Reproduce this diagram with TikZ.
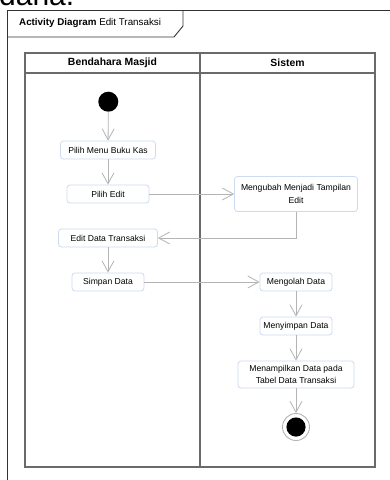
\documentclass[tikz,border=0pt]{standalone}
\usepackage{fontspec}
\setmainfont{Liberation Sans}
\usetikzlibrary{arrows.meta,calc}
\definecolor{framec}{HTML}{333333}
\definecolor{lanec}{HTML}{6A6A6A}
\definecolor{edgec}{HTML}{B4B4B4}
\definecolor{boxc}{HTML}{CCDAF2}
\tikzset{
  act/.style={draw=boxc, fill=white, rounded corners=3pt, line width=0.8pt,
    align=center, inner sep=1pt, minimum height=18pt,
    font=\fontsize{8.6}{12.5}\selectfont},
  flow/.style={draw=edgec, line width=0.8pt,
    -{Straight Barb[length=11pt,width=12pt,line width=0.8pt]}},
  lane/.style={draw=lanec, line width=1.1pt},
  lanehead/.style={font=\fontsize{10.4}{12}\selectfont\bfseries},
}
\begin{document}
\begin{tikzpicture}[x=1pt,y=-1pt]
\useasboundingbox (0,0) rectangle (390,480);
\clip (0,0) rectangle (390,480);
\fill[white] (0,0) rectangle (390,480);

% running text above the figure
\node[anchor=base west, inner sep=0pt, font=\fontsize{30}{30}\selectfont] (prev) at (-1,5.5) {dana.};

% diagram frame with its name tab
\draw[framec, line width=0.9pt] (395,10) -- (7,10) -- (7,490);
\draw[framec, line width=0.9pt] (183,10) -- (183,26) -- (174,37) -- (7,37);
\node[anchor=west, inner sep=0pt, font=\fontsize{9.8}{12}\selectfont] (title) at (19,22.5)
  {\textbf{Activity Diagram} Edit Transaksi};

% swimlanes
\draw[lane] (25,53) rectangle (375,467);
\draw[lane] (25,73) -- (375,73);
\draw[lane] (200,53) -- (200,467);
\node[lanehead] (laneA) at (112.5,63) {Bendahara Masjid};
\node[lanehead] (laneB) at (287.5,63) {Sistem};

% actions
\fill (108.3,101.7) circle (10pt);
\coordinate (start) at (108.3,111.7);
\node[act, minimum width=95pt] (menu) at (108,150) {Pilih Menu Buku Kas};
\node[act, minimum width=82pt] (edit) at (108,194) {Pilih Edit};
\node[act, minimum width=99pt] (editdata) at (108,238) {Edit Data Transaksi};
\node[act, minimum width=72pt] (simpan) at (108,282) {Simpan Data};
\node[act, minimum width=123pt, minimum height=35pt] (ubah) at (296,194)
  {Mengubah Menjadi Tampilan\\Edit};
\node[act, minimum width=72pt] (olah) at (296,282) {Mengolah Data};
\node[act, minimum width=72pt] (menyimpan) at (296,326) {Menyimpan Data};
\node[act, minimum width=116pt, minimum height=27pt] (tampil) at (296,374.5)
  {Menampilkan Data pada\\Tabel Data Transaksi};
\node[circle, draw=edgec, fill=white, line width=0.9pt, minimum size=27pt, inner sep=0pt] (end) at (296,427) {};
\fill (end.center) circle (9.6pt);

% control flow
\draw[flow] (start) -- (menu);
\draw[flow] (menu) -- (edit);
\draw[flow] (edit) -- (ubah);
\draw[flow] (ubah.south) |- (editdata.east);
\draw[flow] (editdata) -- (simpan);
\draw[flow] (simpan) -- (olah);
\draw[flow] (olah) -- (menyimpan);
\draw[flow] (menyimpan) -- (tampil);
\draw[flow] (tampil) -- (end);
\end{tikzpicture}
\end{document}
